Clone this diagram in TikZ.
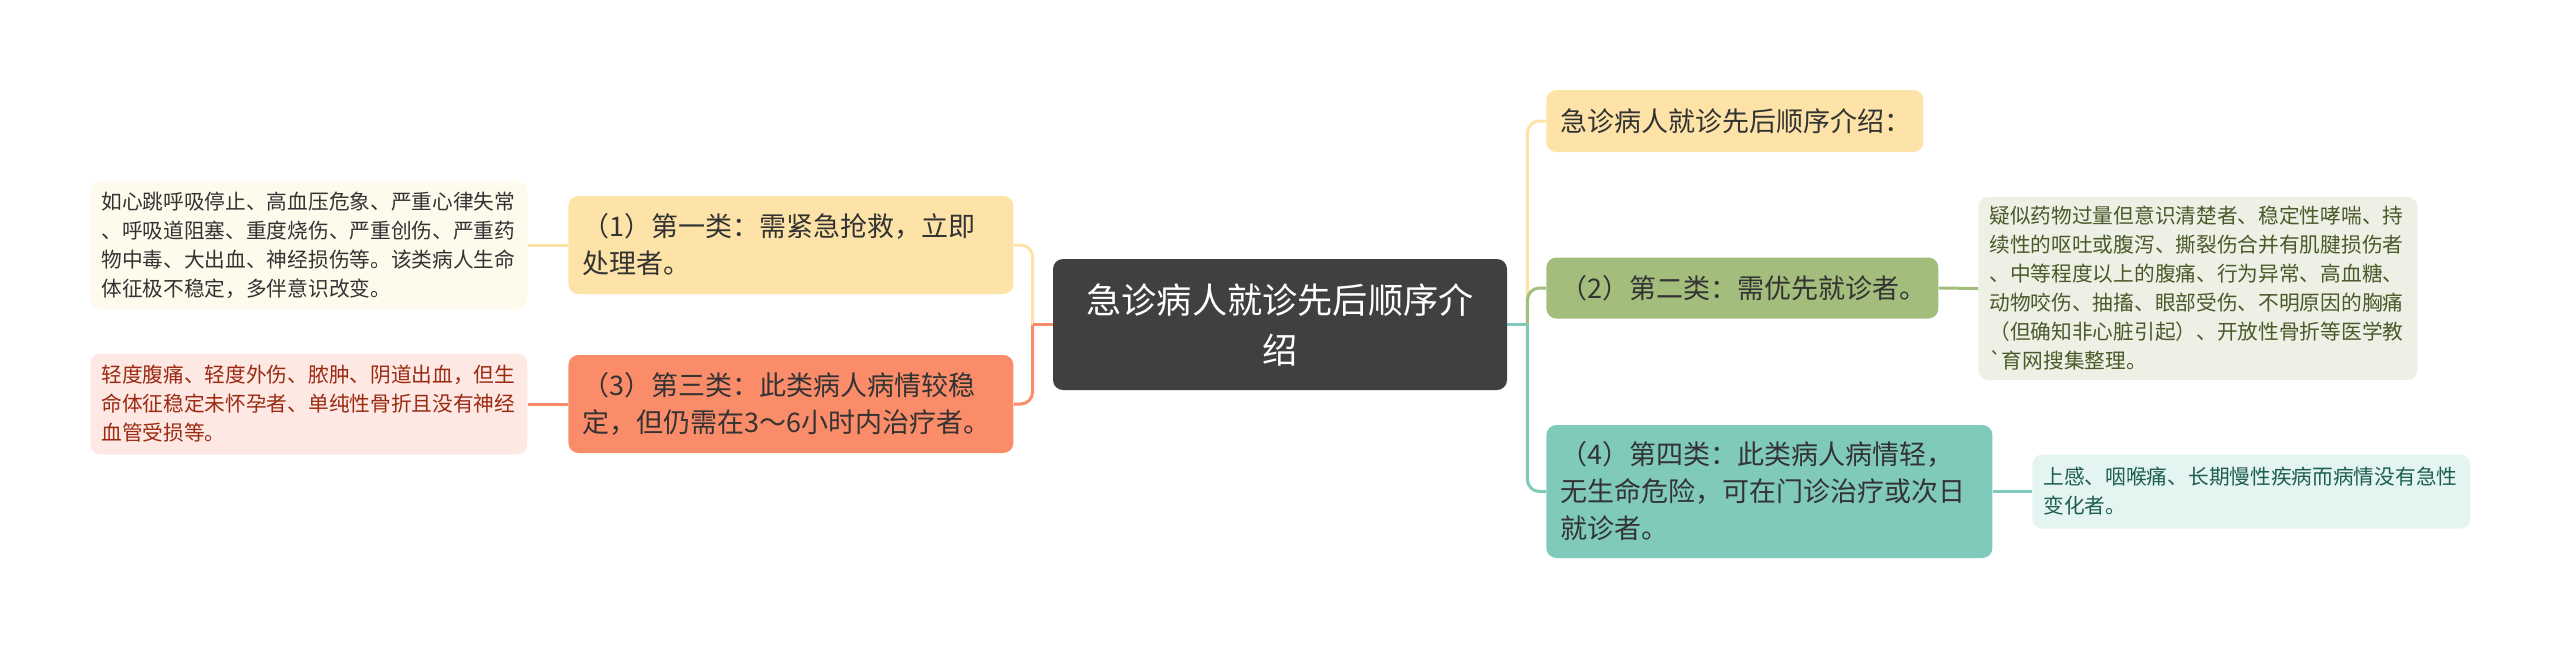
\documentclass[tikz,border=0pt]{standalone}
\usepackage{fontspec}
\setmainfont{Noto Sans CJK SC}[Ligatures=TeXOff]
\usetikzlibrary{positioning}
\definecolor{rootgray}{RGB}{64,64,64}
\definecolor{sandyel}{RGB}{253,227,168}
\definecolor{salmon1}{RGB}{250,140,106}
\definecolor{olivegr}{RGB}{163,189,124}
\definecolor{tealgr}{RGB}{128,202,188}
\definecolor{leafyel}{RGB}{254,250,236}
\definecolor{leafred}{RGB}{253,232,227}
\definecolor{leafgr}{RGB}{238,240,229}
\definecolor{leafteal}{RGB}{227,244,241}
\definecolor{txtdark}{RGB}{51,51,51}
\definecolor{txtred}{RGB}{156,42,18}
\definecolor{txtolive}{RGB}{74,90,42}
\definecolor{txtteal}{RGB}{30,94,82}

\begin{document}
\begin{tikzpicture}[x=0.5pt,y=-0.5pt,
  topicbox/.style={anchor=west,rounded corners=5pt,inner xsep=7pt,inner ysep=0pt,align=left,text=txtdark,font=\fontsize{13.5}{18.5}\selectfont},
  leafbox/.style={anchor=west,rounded corners=5pt,inner xsep=5.5pt,inner ysep=0pt,align=left,font=\fontsize{10.35}{14.5}\selectfont},
  branch/.style={line width=1.5pt,rounded corners=6pt}]
\useasboundingbox (0,0) rectangle (2560,649);
% centre topic
\node[fill=rootgray,rounded corners=5pt,inner xsep=12pt,text width=203pt,minimum height=65.5pt,align=center,text=white,font=\fontsize{17.6}{25}\selectfont] (root) at (1280,324.5) {急诊病人就诊先后顺序介\\绍};
% right side
\node[topicbox,fill=sandyel,text width=174.5pt,minimum height=31pt] (intro) at (1546,121) {急诊病人就诊先后顺序介绍：};
\node[topicbox,fill=olivegr,text width=182pt,minimum height=30.5pt] (cat2) at (1546,288) {（2）第二类：需优先就诊者。};
\node[topicbox,fill=tealgr,text width=209pt,minimum height=66.5pt] (cat4) at (1546,491.5) {（4）第四类：此类病人病情轻，\\无生命危险，可在门诊治疗或次日\\就诊者。};
\node[leafbox,fill=leafgr,text=txtolive,text width=208.5pt,minimum height=91.5pt] (leaf2) at (1978,288.5) {疑似药物过量但意识清楚者、稳定性哮喘、持\\续性的呕吐或腹泻、撕裂伤合并有肌腱损伤者\\、中等程度以上的腹痛、行为异常、高血糖、\\动物咬伤、抽搐、眼部受伤、不明原因的胸痛\\（但确知非心脏引起）、开放性骨折等医学教\\`育网搜集整理。};
\node[leafbox,fill=leafteal,text=txtteal,text width=208pt,minimum height=37pt] (leaf4) at (2032,491.5) {上感、咽喉痛、长期慢性疾病而病情没有急性\\变化者。};
% left side
\node[topicbox,fill=sandyel,text width=208.5pt,minimum height=49pt] (cat1) at (568,245) {（1）第一类：需紧急抢救，立即\\处理者。};
\node[topicbox,fill=salmon1,text width=208.5pt,minimum height=49pt] (cat3) at (568,404) {（3）第三类：此类病人病情较稳\\定，但仍需在3～6小时内治疗者。};
\node[leafbox,fill=leafyel,text=txtdark,text width=207.5pt,minimum height=64pt] (leaf1) at (90,245) {如心跳呼吸停止、高血压危象、严重心律失常\\、呼吸道阻塞、重度烧伤、严重创伤、严重药\\物中毒、大出血、神经损伤等。该类病人生命\\体征极不稳定，多伴意识改变。};
\node[leafbox,fill=leafred,text=txtred,text width=207.5pt,minimum height=50.5pt] (leaf3) at (90,404) {轻度腹痛、轻度外伤、脓肿、阴道出血，但生\\命体征稳定未怀孕者、单纯性骨折且没有神经\\血管受损等。};
% connectors
\coordinate (rtrunk) at ([xshift=10pt]root.east);
\coordinate (ltrunk) at ([xshift=-10pt]root.west);
\draw[branch,sandyel] (rtrunk) |- (intro.west);
\draw[branch,olivegr] (rtrunk) |- (cat2.west);
\draw[branch,tealgr] (rtrunk) |- (cat4.west);
\draw[line width=1.5pt,tealgr] (root.east) -- (rtrunk);
\draw[branch,sandyel] (ltrunk) |- (cat1.east);
\draw[branch,salmon1] (ltrunk) |- (cat3.east);
\draw[line width=1.5pt,salmon1] (root.west) -- (ltrunk);
\draw[line width=1.5pt,sandyel] (cat1.west) -- (leaf1.east);
\draw[line width=1.5pt,salmon1] (cat3.west) -- (leaf3.east);
\draw[line width=1.5pt,olivegr] (cat2.east) -- (leaf2.west);
\draw[line width=1.5pt,tealgr] (cat4.east) -- (leaf4.west);
\end{tikzpicture}
\end{document}
